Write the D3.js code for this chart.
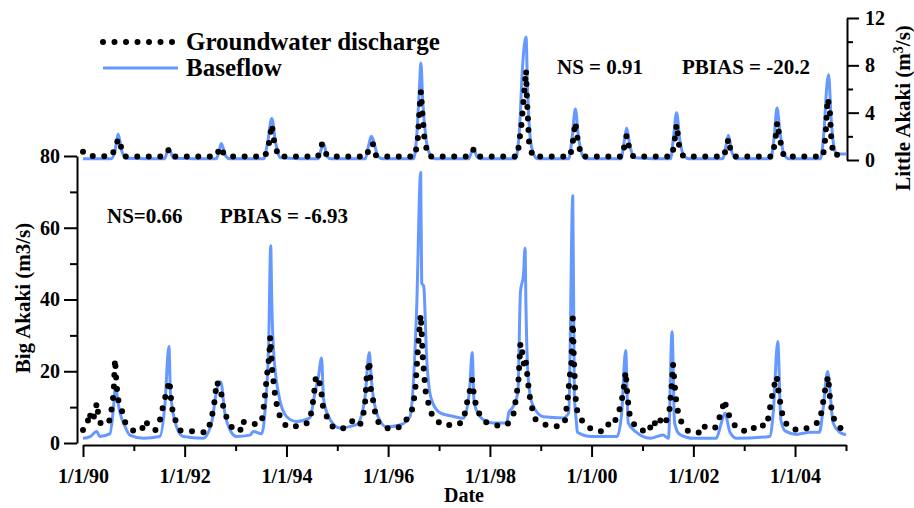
<!DOCTYPE html>
<meta charset="utf-8">
<style>
body { margin: 0; background: #fff; }
svg text { font-family: "Liberation Serif", "Times New Roman", serif; font-weight: bold; fill: #000; }
.axis path, .axis line { stroke: #000; stroke-width: 2; fill: none; }
</style>
<body>
<svg id="chart" width="914" height="508"></svg>
<script src="https://cdn.jsdelivr.net/npm/d3@7"></script>
<script>

// Little Akaki (top panel, right axis) -- [decimal year, m3/s]
var littleBaseflow = [
  [1990.00,0.1],[1990.55,0.1],[1990.63,0.8],[1990.69,2.2],[1990.76,0.8],[1990.85,0.15],
  [1991.60,0.1],[1991.69,1.0],[1991.78,0.15],
  [1992.62,0.1],[1992.68,0.8],[1992.72,1.4],[1992.80,0.4],[1992.88,0.1],
  [1993.55,0.1],[1993.63,1.5],[1993.71,3.5],[1993.79,1.4],[1993.88,0.2],
  [1994.62,0.1],[1994.69,1.0],[1994.73,1.4],[1994.80,0.3],[1994.88,0.1],
  [1995.55,0.1],[1995.62,1.3],[1995.67,2.0],[1995.72,1.5],[1995.80,0.3],[1995.90,0.1],
  [1996.50,0.1],[1996.57,2.5],[1996.62,6.5],[1996.645,8.2],[1996.68,5.0],[1996.74,2.0],[1996.82,0.5],[1996.92,0.1],
  [1997.58,0.1],[1997.65,0.8],[1997.68,1.0],[1997.74,0.3],[1997.82,0.1],
  [1998.50,0.1],[1998.58,2.5],[1998.64,7.8],[1998.71,10.4],[1998.74,6.0],[1998.79,2.0],[1998.86,0.5],[1998.94,0.1],
  [1999.55,0.1],[1999.62,2.0],[1999.68,4.3],[1999.74,2.0],[1999.82,0.4],[1999.90,0.1],
  [2000.58,0.1],[2000.64,1.5],[2000.69,2.7],[2000.75,1.3],[2000.84,0.2],
  [2001.55,0.1],[2001.61,2.0],[2001.67,4.0],[2001.73,1.8],[2001.82,0.3],[2001.92,0.1],
  [2002.58,0.1],[2002.64,1.2],[2002.69,2.1],[2002.75,0.8],[2002.84,0.1],
  [2003.52,0.1],[2003.59,2.0],[2003.645,4.4],[2003.70,2.5],[2003.78,0.5],[2003.88,0.1],
  [2004.50,0.1],[2004.57,2.5],[2004.63,6.5],[2004.66,7.2],[2004.71,3.5],[2004.77,1.0],[2004.82,0.5],[2005.00,0.5]
];

var littleGroundwater = [
  [1990.00,0.7],[1990.08,0.35],[1990.55,0.3],[1990.64,1.0],[1990.69,1.8],[1990.74,1.2],[1990.82,0.3],
  [1991.60,0.3],[1991.69,0.9],[1991.77,0.3],
  [1992.62,0.3],[1992.70,1.1],[1992.76,0.6],[1992.84,0.3],
  [1993.58,0.3],[1993.66,1.5],[1993.71,3.0],[1993.76,1.5],[1993.84,0.3],
  [1994.62,0.3],[1994.70,1.35],[1994.76,0.6],[1994.84,0.3],
  [1995.58,0.3],[1995.64,1.35],[1995.70,1.35],[1995.76,0.4],[1995.84,0.3],
  [1996.52,0.3],[1996.58,1.5],[1996.62,4.5],[1996.645,5.8],[1996.67,4.2],[1996.72,1.5],[1996.80,0.3],
  [1997.60,0.3],[1997.68,0.9],[1997.75,0.3],
  [1998.54,0.3],[1998.62,3.0],[1998.68,6.0],[1998.71,7.6],[1998.73,5.0],[1998.77,1.5],[1998.84,0.3],
  [1999.58,0.3],[1999.64,1.8],[1999.68,3.2],[1999.73,1.6],[1999.80,0.3],
  [2000.60,0.3],[2000.66,1.5],[2000.69,2.1],[2000.74,1.0],[2000.82,0.3],
  [2001.58,0.3],[2001.63,1.6],[2001.67,3.0],[2001.72,1.2],[2001.80,0.3],
  [2002.60,0.3],[2002.66,1.3],[2002.69,1.8],[2002.74,0.6],[2002.82,0.3],
  [2003.55,0.3],[2003.61,1.6],[2003.65,3.2],[2003.70,1.8],[2003.78,0.3],
  [2004.55,0.3],[2004.60,2.0],[2004.64,5.2],[2004.68,4.5],[2004.72,1.2],[2004.80,0.3],[2004.92,0.9]
];

// Big Akaki (bottom panel, left axis)
var bigBaseflow = [
  [1990.00,1.3],[1990.14,1.8],[1990.27,3.2],[1990.33,1.8],[1990.53,2.6],[1990.60,10],[1990.64,16],[1990.68,12],
  [1990.73,8.3],[1990.83,4.5],[1990.92,2.2],[1991.19,1.3],[1991.51,1.8],[1991.61,10.5],[1991.69,26.9],[1991.72,14],
  [1991.84,4.5],[1991.97,1.8],[1992.36,1.3],[1992.53,5.6],[1992.63,14.8],[1992.71,17.1],[1992.79,8.3],[1992.89,3.7],
  [1993.02,1.8],[1993.28,2.2],[1993.35,3.2],[1993.51,2.6],[1993.58,9.3],[1993.65,28],[1993.69,55],[1993.71,40],
  [1993.74,27],[1993.84,14],[1994.00,7.4],[1994.20,6.0],[1994.46,7.0],[1994.56,14],[1994.63,18.6],[1994.69,23.7],
  [1994.73,12.2],[1994.86,6.5],[1995.05,4.2],[1995.38,5.1],[1995.54,12.2],[1995.63,25.2],[1995.67,17.6],[1995.80,7.4],
  [1995.97,4.5],[1996.23,5.0],[1996.43,7.4],[1996.56,37],[1996.64,75.4],[1996.66,44.6],[1996.70,43.7],[1996.76,23],
  [1996.85,12.2],[1997.02,8.4],[1997.28,7.4],[1997.48,6.9],[1997.60,15],[1997.65,25.2],[1997.69,11],[1997.87,6.5],
  [1998.07,5.6],[1998.33,5.6],[1998.37,8.4],[1998.45,10],[1998.55,14],[1998.60,42],[1998.66,47],[1998.69,54.3],
  [1998.71,37],[1998.75,18.5],
  [1998.83,11],[1999.05,7.3],[1999.44,7.0],[1999.55,8.4],[1999.63,68.9],[1999.66,13.9],[1999.70,6],[1999.72,3],
  [2000.00,1.8],[2000.50,1.8],[2000.59,8],[2000.67,25.8],[2000.72,5.6],[2000.88,3.0],[2001.15,1.3],[2001.40,2.2],
  [2001.51,1.3],[2001.58,31],[2001.63,5.6],[2001.73,2.4],[2002.00,1.3],[2002.45,1.3],[2002.55,5.6],[2002.62,8.3],
  [2002.72,3.0],[2002.85,1.3],[2003.50,1.8],[2003.57,8.3],[2003.66,28.3],[2003.72,6.5],[2003.81,3.3],[2004.03,2.4],
  [2004.30,3.0],[2004.48,3.0],[2004.55,9.3],[2004.64,19.9],[2004.75,5.6],[2004.88,3.0],[2005.00,2.3]
];

var bigGroundwater = [
  [1990.00,3.6],[1990.08,4.5],[1990.12,8.5],[1990.18,6],[1990.24,8.5],[1990.27,11.2],[1990.31,7],[1990.36,5],
  [1990.44,5.5],[1990.53,6.4],[1990.57,10.3],[1990.60,13.5],[1990.63,23.4],[1990.66,16],[1990.70,11.4],[1990.75,9.8],
  [1990.83,5.8],[1990.99,3.4],[1991.15,3.4],[1991.22,6.3],[1991.29,4.8],[1991.42,3.5],[1991.51,6.2],[1991.60,11.8],
  [1991.65,14.6],[1991.70,17.4],[1991.74,10.9],[1991.78,7.5],[1991.91,3.5],[1992.24,3.2],[1992.43,2.9],[1992.52,6.1],
  [1992.59,11.8],[1992.63,17.1],[1992.68,15.7],[1992.72,13.8],[1992.76,10],[1992.82,7.3],[1992.92,4.5],[1993.09,3.2],
  [1993.12,6.2],[1993.22,5.3],[1993.48,5.3],[1993.53,7.2],[1993.58,13.8],[1993.62,19.4],[1993.66,24],[1993.68,29.6],
  [1993.72,20],[1993.77,14],[1993.80,11.2],[1993.87,7.4],[1994.00,4.5],[1994.20,4.7],[1994.36,5],[1994.46,6.3],
  [1994.53,12.2],[1994.58,18.7],[1994.64,17.4],[1994.68,15],[1994.72,9.8],[1994.79,7.4],[1994.91,4.5],[1995.08,3.8],
  [1995.21,4.9],[1995.31,6.3],[1995.38,4.9],[1995.46,5.4],[1995.54,9.7],[1995.58,18.7],[1995.63,22.9],[1995.66,15],
  [1995.70,12.2],[1995.77,6.3],[1995.94,4.2],[1996.13,3.9],[1996.30,5],[1996.47,9.3],[1996.53,14],[1996.59,27],
  [1996.64,35.8],[1996.66,30.7],[1996.68,24.2],[1996.71,18.6],[1996.74,14],[1996.79,11.2],[1996.87,7.5],[1997.05,5],
  [1997.21,5],[1997.38,5],[1997.48,6.5],[1997.56,12],[1997.61,15],[1997.65,17.6],[1997.68,14],[1997.73,10.2],
  [1997.80,7.8],[1997.90,5.9],[1998.05,5.2],[1998.23,4.6],[1998.36,5.5],[1998.46,7.8],[1998.52,13],[1998.56,17.2],
  [1998.60,27.9],[1998.64,25],[1998.67,21.7],[1998.70,23.4],[1998.73,19.6],[1998.77,14],[1998.82,10.2],[1998.90,6.5],
  [1999.11,5],[1999.30,4.6],[1999.47,5.5],[1999.53,12.4],[1999.57,18.6],[1999.60,21.7],[1999.63,34.9],[1999.65,23.7],
  [1999.68,14],[1999.70,9.7],[1999.78,6.9],[1999.87,5],[2000.06,3.3],[2000.26,3.3],[2000.36,6],[2000.44,5.5],
  [2000.53,8.4],[2000.58,11],[2000.62,14],[2000.67,19.9],[2000.70,14],[2000.74,8.4],[2000.82,5.5],[2000.92,3.7],
  [2001.08,3.3],[2001.11,2.9],[2001.21,6.4],[2001.28,4.5],[2001.37,6.8],[2001.45,5.5],[2001.53,9.3],[2001.57,15.6],
  [2001.60,22],[2001.63,16.5],[2001.66,12],[2001.70,8.4],[2001.76,6],[2001.87,3.5],[2002.10,2.8],[2002.16,5],
  [2002.32,3.8],[2002.46,4.5],[2002.54,8.4],[2002.62,12],[2002.66,8.4],[2002.72,7.4],[2002.84,4.2],[2003.02,3.3],
  [2003.12,4.5],[2003.21,4.1],[2003.31,5.4],[2003.41,4.5],[2003.46,5.9],[2003.50,9.2],[2003.57,14.9],[2003.64,18.6],
  [2003.67,15],[2003.70,12],[2003.73,9.3],[2003.77,6.9],[2003.86,4.5],[2004.06,3.5],[2004.22,4.1],[2004.35,5],
  [2004.48,6],[2004.53,9.3],[2004.58,14],[2004.65,18.6],[2004.69,12],[2004.72,9.3],[2004.78,6],[2004.95,3.3]
];

var xTickYears = [1990,1991,1992,1993,1994,1995,1996,1997,1998,1999,2000,2001,2002,2003,2004,2005];
var xTickLabels = ["1/1/90","","1/1/92","","1/1/94","","1/1/96","","1/1/98","","1/1/00","","1/1/02","","1/1/04",""];
var bigTicks = [0,10,20,30,40,50,60,70,80];
var littleTicks = [0,2,4,6,8,10,12];

var blue = "#6699ff";

function toDate(y) {
  var yr = Math.floor(y);
  return new Date(new Date(yr, 0, 1).getTime() + (y - yr) * 365.25 * 864e5);
}

var svg = d3.select("#chart");

var x = d3.scaleTime()
    .domain([new Date(1990, 0, 1), new Date(2005, 0, 1)])
    .range([83, 846]);
var yBig = d3.scaleLinear().domain([0, 80]).range([443, 156]);
var yLittle = d3.scaleLinear().domain([0, 12]).range([160, 18]);

var lineBig = d3.line().x(d => x(toDate(d[0]))).y(d => yBig(d[1]));
var lineLittle = d3.line().x(d => x(toDate(d[0]))).y(d => yLittle(d[1]));
var curveBig = d3.line().curve(d3.curveMonotoneX).x(d => x(toDate(d[0]))).y(d => yBig(d[1]));
var curveLittle = d3.line().curve(d3.curveMonotoneX).x(d => x(toDate(d[0]))).y(d => yLittle(d[1]));

// baseflow lines
svg.append("path").attr("d", curveBig(bigBaseflow))
    .attr("fill", "none").attr("stroke", blue).attr("stroke-width", 3).attr("stroke-linejoin", "round");
svg.append("path").attr("d", curveLittle(littleBaseflow))
    .attr("fill", "none").attr("stroke", blue).attr("stroke-width", 3).attr("stroke-linejoin", "round");

// groundwater discharge as round-dotted lines
function dotted(sel) {
  sel.attr("fill", "none").attr("stroke", "#000").attr("stroke-width", 6)
     .attr("stroke-linecap", "round").attr("stroke-dasharray", "0 11.5");
}
svg.append("path").attr("d", lineBig(bigGroundwater)).call(dotted);
svg.append("path").attr("d", lineLittle(littleGroundwater)).call(dotted);

// axes
var xAxis = svg.append("g").attr("class", "axis")
    .attr("transform", "translate(0,445)")
    .call(d3.axisBottom(x)
      .tickValues(xTickYears.map(y => new Date(y, 0, 1)))
      .tickFormat((d, i) => xTickLabels[i])
      .tickSize(12).tickSizeOuter(0).tickPadding(12));
xAxis.selectAll(".tick line").attr("y2", (d, i) => xTickLabels[i] ? 12 : 6);

var leftAxis = svg.append("g").attr("class", "axis")
    .attr("transform", "translate(77,0)")
    .call(d3.axisLeft(yBig).tickValues(bigTicks)
      .tickFormat(d => d % 20 ? "" : d)
      .tickSize(13).tickSizeOuter(0).tickPadding(4));
leftAxis.selectAll(".tick line").attr("x2", d => d % 20 ? -7 : -13);

var rightAxis = svg.append("g").attr("class", "axis")
    .attr("transform", "translate(847,0)")
    .call(d3.axisRight(yLittle).tickValues(littleTicks)
      .tickFormat(d => d % 4 ? "" : d)
      .tickSize(12).tickSizeOuter(0).tickPadding(6));
rightAxis.selectAll(".tick line").attr("x2", d => d % 4 ? 6 : 12);

svg.selectAll(".axis text").style("font-size", "20px")
    .style("font-family", "'Liberation Serif', serif").style("font-weight", "bold");

// axis titles
svg.append("text").attr("x", 464).attr("y", 502).attr("text-anchor", "middle")
    .style("font-size", "20px").text("Date");
svg.append("text").attr("transform", "translate(30,298) rotate(-90)").attr("text-anchor", "middle")
    .style("font-size", "21px").text("Big Akaki (m3/s)");
var rl = svg.append("text").attr("transform", "translate(910,108) rotate(-90)").attr("text-anchor", "middle")
    .style("font-size", "21px");
rl.append("tspan").text("Little Akaki (m");
rl.append("tspan").attr("dy", -7).style("font-size", "14px").text("3");
rl.append("tspan").attr("dy", 7).text("/s)");

// stats
svg.append("text").attr("x", 107).attr("y", 223).style("font-size", "21px").text("NS=0.66");
svg.append("text").attr("x", 220).attr("y", 223).style("font-size", "21px").text("PBIAS = -6.93");
svg.append("text").attr("x", 557).attr("y", 74).style("font-size", "21px").text("NS = 0.91");
svg.append("text").attr("x", 682).attr("y", 74).style("font-size", "21px").text("PBIAS = -20.2");

// legend
svg.append("path").attr("d", "M103,42H175").call(dotted);
svg.append("text").attr("x", 186).attr("y", 50).style("font-size", "25px").text("Groundwater discharge");
svg.append("line").attr("x1", 103).attr("x2", 178).attr("y1", 68).attr("y2", 68)
    .attr("stroke", blue).attr("stroke-width", 3);
svg.append("text").attr("x", 186).attr("y", 76).style("font-size", "25px").text("Baseflow");

</script>
